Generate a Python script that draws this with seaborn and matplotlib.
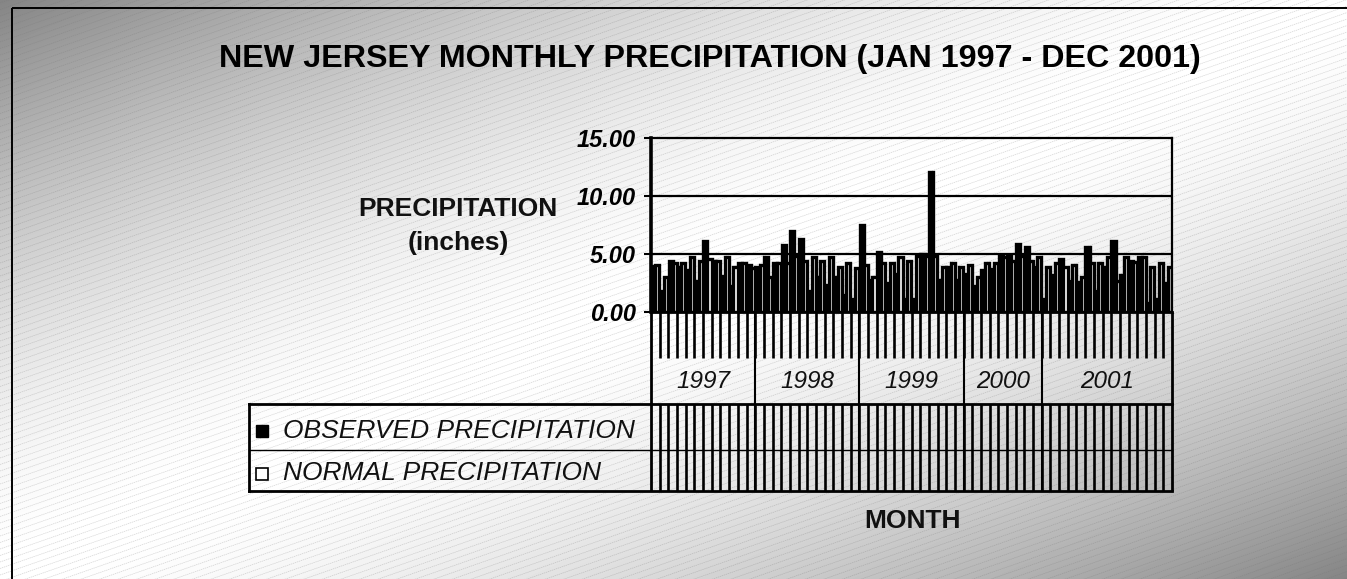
import numpy as np
import pandas as pd
import matplotlib
matplotlib.use("Agg")
import matplotlib.pyplot as plt
import matplotlib.transforms as mtransforms
from matplotlib.patches import Rectangle
import seaborn as sns

# ---------------- data ----------------
years = ["1997", "1998", "1999", "2000", "2001"]
months_per_year = [12, 12, 12, 9, 15]

observed = [4.0, 1.8, 4.4, 3.9, 3.6, 2.7, 6.1, 4.4, 3.1, 2.2, 4.2, 4.05, 3.9, 4.7, 4.2,
            5.8, 7.0, 6.3, 1.8, 3.0, 2.3, 3.0, 1.5, 1.1,
            7.5, 2.8, 5.2, 2.5, 3.3, 1.1, 1.1, 5.0, 12.1, 2.8, 3.9, 2.8,
            3.3, 2.2, 3.6, 3.7, 4.8, 4.9, 5.9, 5.6, 3.9,
            1.1, 3.2, 4.55, 2.7, 2.6, 5.6, 1.8, 3.85, 6.1, 3.2, 4.4, 4.7, 0.8, 1.1, 2.5]
normal = [4.05, 3.0, 4.2, 4.2, 4.7, 4.4, 4.6, 4.4, 4.7, 3.85, 4.2, 3.8, 4.05, 3.0, 4.2,
          4.2, 4.8, 4.4, 4.7, 4.4, 4.7, 3.85, 4.2, 3.8,
          4.05, 3.0, 4.2, 4.2, 4.7, 4.4, 4.8, 4.8, 4.8, 3.9, 4.2, 3.85,
          4.05, 3.0, 4.2, 4.2, 4.7, 4.4, 4.8, 4.4, 4.7,
          3.85, 4.2, 3.85, 4.05, 3.0, 4.2, 4.2, 4.7, 2.7, 4.7, 4.3, 4.7, 3.85, 4.2, 3.85]
yticks = [0, 5, 10, 15]
series_names = ["OBSERVED PRECIPITATION", "NORMAL PRECIPITATION"]

n = len(observed)
df = pd.DataFrame({
    "month": list(range(n)) * 2,
    "value": observed + normal,
    "series": [series_names[0]] * n + [series_names[1]] * n,
})

plt.rcParams["font.family"] = ["Liberation Sans", "DejaVu Sans"]

W, H = 1347, 579
fig = plt.figure(figsize=(W / 100, H / 100), dpi=100)

# ---------------- background ----------------
bg = fig.add_axes([0, 0, 1, 1], zorder=-10)
xx, yy = np.meshgrid(np.arange(W) + 0.5, np.arange(H) + 0.5)
t = xx / W + yy / H - 1
bright = 1 - 0.48 * np.abs(t) ** 1.6
bg.imshow(bright, cmap="gray", vmin=0, vmax=1, extent=(0, W, H, 0), aspect="auto",
          interpolation="bilinear")
s = 0.35
for c in np.arange(-10, H + s * W + 20, 6.5):
    bg.plot([0, W], [c, c - s * W], color=(0.45, 0.45, 0.45), alpha=0.3, lw=0.5,
            dashes=(2, 1))
bg.set_xlim(0, W)
bg.set_ylim(H, 0)
bg.axis("off")

# ---------------- overlay (pixel coords) ----------------
ov = fig.add_axes([0, 0, 1, 1], zorder=1)
ov.set_xlim(0, W)
ov.set_ylim(H, 0)
ov.axis("off")
ov.patch.set_alpha(0)

# ---------------- main chart ----------------
x0, x1, ytop, ybot = 651, 1172, 138, 312
ax = fig.add_axes([x0 / W, 1 - ybot / H, (x1 - x0) / W, (ybot - ytop) / H], zorder=2)
ax.patch.set_alpha(0)
sns.barplot(data=df, x="month", y="value", hue="series", hue_order=series_names,
            palette={series_names[0]: "black", series_names[1]: "white"},
            edgecolor="black", linewidth=2.4, width=0.94, errorbar=None,
            legend=False, ax=ax)
ax.set_xlim(-0.5, n - 0.5)
ax.set_ylim(0, 15)
for y in yticks[1:-1]:
    ax.axhline(y, color="black", lw=1.6, zorder=0.5)
ax.set_yticks(yticks)
ax.set_yticklabels([f"{v:.2f}" for v in yticks], fontsize=17, fontweight="bold",
                   fontstyle="italic")
ax.tick_params(axis="y", length=5, width=1.5, pad=6, direction="out", colors="black")
ax.tick_params(axis="x", length=0, labelbottom=False)
ax.set_xlabel("")
ax.set_ylabel("")
ax.spines["left"].set_linewidth(2.6)
ax.spines["bottom"].set_linewidth(2.0)
ax.spines["top"].set_linewidth(1.6)
ax.spines["right"].set_linewidth(1.6)

# ---------------- category table below axis ----------------
trans = mtransforms.blended_transform_factory(ax.transData, ov.transData)
bounds = np.arange(0.5, n - 0.5, 1)
ov.vlines(bounds, 312, 358, colors="black", lw=1.9, transform=trans)
ov.vlines(bounds, 404, 491, colors="black", lw=1.9, transform=trans)
cum = np.cumsum(months_per_year)
starts = np.concatenate([[0], cum[:-1]])
ov.vlines(cum[:-1] - 0.5, 312, 491, colors="black", lw=1.5, transform=trans)
ov.vlines([-0.5, n - 0.5], 312, 491, colors="black", lw=2.0, transform=trans)
for yr, st, ct in zip(years, starts, cum):
    ov.text((st + ct - 1) / 2, 381, yr, transform=trans, ha="center", va="center",
            fontsize=17.5, fontstyle="italic", color="#111111")

# horizontal table lines
ov.plot([249, 1172], [404, 404], color="black", lw=2.0)
ov.plot([249, 1172], [450, 450], color="black", lw=1.0)
ov.plot([249, 1172], [491, 491], color="black", lw=2.0)
ov.plot([249, 249], [404, 491], color="black", lw=2.0)

# legend rows
ov.plot([262], [431], marker="s", ms=9, mfc="black", mec="black", mew=1)
ov.plot([262], [474], marker="s", ms=9, mfc="white", mec="black", mew=1.2)
ov.text(283, 431, series_names[0], ha="left", va="center", fontsize=19,
        fontstyle="italic", color="#111111")
ov.text(283, 473, series_names[1], ha="left", va="center", fontsize=19,
        fontstyle="italic", color="#111111")

# ---------------- texts ----------------
ov.text(710, 59, "NEW JERSEY MONTHLY PRECIPITATION (JAN 1997 - DEC 2001)", ha="center",
        va="center", fontsize=23.2, fontweight="bold", color="black")
ov.text(458, 209, "PRECIPITATION", ha="center", va="center", fontsize=19,
        fontweight="bold", color="#111111")
ov.text(458, 243, "(inches)", ha="center", va="center", fontsize=19,
        fontweight="bold", color="#111111")
ov.text(912, 521, "MONTH", ha="center", va="center", fontsize=19,
        fontweight="bold", color="#111111")

# outer border
ov.add_patch(Rectangle((12, 8), W + 50, H + 50, fill=False, lw=1.4, ec="black"))

fig.savefig("out.png", dpi=100)
